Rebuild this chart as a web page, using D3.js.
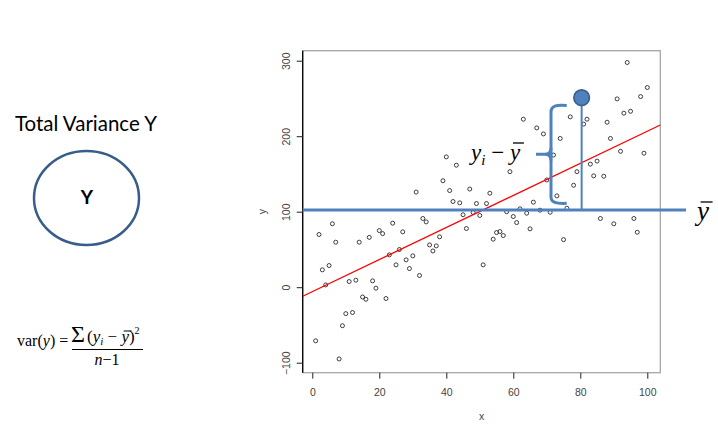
<!DOCTYPE html>
<html><head><meta charset="utf-8">
<script src="https://cdn.jsdelivr.net/npm/d3@7"></script>
<style>html,body{margin:0;padding:0;background:#fff;} svg{display:block;}</style>
</head><body>
<svg id="c" width="718" height="434"></svg>
<script>
// ---- data ----
const xValues = [1,2,3,4,5,6,7,8,9,10,11,12,13,14,15,16,17,18,19,20,
  21,22,23,24,25,26,27,28,29,30,31,32,33,34,35,36,37,38,39,40,
  41,42,43,44,45,46,47,48,49,50,51,52,53,54,55,56,57,58,59,60,
  61,62,63,64,65,66,67,68,69,70,71,72,73,74,75,76,77,78,79,80,
  81,82,83,84,85,86,87,88,89,90,91,92,93,94,95,96,97,98,99,100];
const yValues = [-71,69.8,23,3,28.7,84,59.6,-95,-51,-35,
  7.5,-33.5,9.3,59.6,-13,-16,66,8.4,-1.3,75,
  71,-15,42.8,84.8,29.6,49.9,73.3,36.2,24.7,41.5,
  126,15.5,91,86.5,56,48,54.7,66.7,141,172.6,
  128,113.5,161.6,111.7,96,77.7,130,99,110.8,95,
  29.6,110.8,124.5,63.6,72.4,73.7,68.4,100,153,93.6,
  85.6,103.8,222.5,98,77.3,112.6,211,102,203,142,
  99.3,175,121,197,63,104.6,225.6,135,153,251,
  216,222.5,163,147.5,167,91,147,218.5,197,84,
  249.4,180,230.5,297.6,233,91,72.8,252.5,177.5,264.5];
const xTicks = [0,20,40,60,80,100];
const yTicks = [-100,0,100,200,300];
const fitCoef = [-5.9, 2.125];      // intercept, slope of the red line
const yMean = [102.4];               // mean of y (blue line)
const highlightPoint = [80.4, 251];  // highlighted observation

// ---- layout ----
const box = {left:302.7, right:660.3, top:50.7, bottom:372.7};
const svg = d3.select("#c");
const x = d3.scaleLinear().domain([0,100]).range([312.3,647.3]);
const y = d3.scaleLinear().domain([-100,300]).range([362.7,60.7]);
const blue = "#4f81bd";
const serif = "'Liberation Serif','Times New Roman',serif";
const sans = "'Liberation Sans',Arial,sans-serif";

// frame
svg.append("rect").attr("x",box.left).attr("y",box.top)
  .attr("width",box.right-box.left).attr("height",box.bottom-box.top)
  .attr("fill","none").attr("stroke","#a6a6a6").attr("stroke-width",1.3);
svg.append("line").attr("x1",box.left).attr("x2",box.left)
  .attr("y1",box.top).attr("y2",box.bottom).attr("stroke","#000").attr("stroke-width",1.3);

// axes
const gy = svg.append("g").attr("transform",`translate(${box.left},0)`)
  .call(d3.axisLeft(y).tickValues(yTicks).tickSize(6).tickFormat(d3.format("d")));
gy.select(".domain").remove();
gy.selectAll(".tick line").attr("stroke","#222");
gy.selectAll(".tick text").attr("transform","rotate(-90)")
  .attr("x",0).attr("y",-16).attr("dy","0.35em").attr("text-anchor","middle")
  .attr("font-family",sans).attr("font-size",10.5).attr("fill","#444");

const gx = svg.append("g").attr("transform",`translate(0,${box.bottom})`)
  .call(d3.axisBottom(x).tickValues(xTicks).tickSize(6).tickFormat(d3.format("d")));
gx.select(".domain").remove();
gx.selectAll(".tick line").attr("stroke","#222");
gx.selectAll(".tick text").attr("y",20).attr("dy","0.35em")
  .attr("font-family",sans).attr("font-size",10.5).attr("fill","#444");

svg.append("text").attr("transform",`translate(262.7,${(box.top+box.bottom)/2}) rotate(-90)`)
  .attr("text-anchor","middle").attr("dy","0.35em")
  .attr("font-family",sans).attr("font-size",10.5).attr("fill","#444").text("y");
svg.append("text").attr("x",(box.left+box.right)/2).attr("y",416).attr("dy","0.35em")
  .attr("text-anchor","middle").attr("font-family",sans).attr("font-size",10.5).attr("fill","#444").text("x");

// points
const pts = xValues.map((v,i)=>[v,yValues[i]]);
svg.append("g").selectAll("circle").data(pts).join("circle")
  .attr("cx",d=>x(d[0])).attr("cy",d=>y(d[1])).attr("r",2)
  .attr("fill","none").attr("stroke","#111").attr("stroke-width",0.8);

// regression line
const xl = [x.invert(box.left), x.invert(box.right)];
svg.append("line")
  .attr("x1",x(xl[0])).attr("y1",y(fitCoef[0]+fitCoef[1]*xl[0]))
  .attr("x2",x(xl[1])).attr("y2",y(fitCoef[0]+fitCoef[1]*xl[1]))
  .attr("stroke","#ff0000").attr("stroke-width",1.3);

// mean line
svg.append("line").attr("x1",box.left).attr("x2",686)
  .attr("y1",y(yMean[0])).attr("y2",y(yMean[0]))
  .attr("stroke",blue).attr("stroke-width",3);

// deviation line + highlighted point
const hx = x(highlightPoint[0]), hy = y(highlightPoint[1]);
svg.append("line").attr("x1",hx).attr("x2",hx).attr("y1",hy).attr("y2",y(yMean[0]))
  .attr("stroke",blue).attr("stroke-width",2);
svg.append("circle").attr("cx",hx).attr("cy",hy).attr("r",7.8)
  .attr("fill",blue).attr("stroke","#385d8a").attr("stroke-width",1.6);

// brace
svg.append("path")
  .attr("d","M566.7,105.5 C556,104.5 551,106 551,112 L551,197 C551,202.5 556,203.8 566.7,203.3")
  .attr("fill","none").attr("stroke",blue).attr("stroke-width",3);
svg.append("path")
  .attr("d","M536,154.3 L545,154.3 Q551,154.3 551,148 M545,154.3 Q551,154.3 551,160.6")
  .attr("fill","none").attr("stroke",blue).attr("stroke-width",3);

// helper: bar over a character of a text element
function barOver(textSel, idx, yBar, w, sw){
  const r = textSel.node().getExtentOfChar(idx);
  svg.append("line").attr("x1",r.x+r.width*0.3).attr("x2",r.x+r.width*0.3+w)
    .attr("y1",yBar).attr("y2",yBar).attr("stroke","#000").attr("stroke-width",sw);
}

// label y_i - ybar
const lab = svg.append("text").attr("x",471).attr("y",160)
  .attr("font-family",serif).attr("font-size",23).attr("fill","#000");
lab.append("tspan").attr("font-style","italic").text("y");
lab.append("tspan").attr("font-style","italic").attr("font-size",15).attr("dy",5).text("i");
lab.append("tspan").attr("dy",-5).text(" \u2212 ");
lab.append("tspan").attr("font-style","italic").text("y");
barOver(lab, 5, 143, 11, 1.3);

// right ybar
const yb = svg.append("text").attr("x",697).attr("y",220)
  .attr("font-family",serif).attr("font-size",27).attr("font-style","italic").text("y");
barOver(yb, 0, 202, 12, 1.3);

// left panel
svg.append("text").attr("x",15).attr("y",131)
  .attr("font-family","Lato,'Open Sans',sans-serif").attr("font-size",21)
  .attr("textLength",142).attr("lengthAdjust","spacingAndGlyphs")
  .attr("fill","#000").text("Total Variance Y");
svg.append("ellipse").attr("cx",86.5).attr("cy",198).attr("rx",52.5).attr("ry",47)
  .attr("fill","none").attr("stroke","#385d8a").attr("stroke-width",2.5);
svg.append("text").attr("x",87).attr("y",204).attr("text-anchor","middle")
  .attr("font-family","Lato,'Open Sans',sans-serif").attr("font-weight","bold").attr("font-size",19)
  .text("Y");

// formula
const f1 = svg.append("text").attr("x",17).attr("y",346)
  .attr("font-family",serif).attr("font-size",16);
f1.append("tspan").text("var(");
f1.append("tspan").attr("font-style","italic").text("y");
f1.append("tspan").text(") =");
svg.append("line").attr("x1",72).attr("x2",143).attr("y1",349.5).attr("y2",349.5)
  .attr("stroke","#000").attr("stroke-width",1);
svg.append("text").attr("x",71).attr("y",342).attr("font-family",serif).attr("font-size",24).text("\u03A3");
const num = svg.append("text").attr("x",87).attr("y",342)
  .attr("font-family",serif).attr("font-size",17);
num.append("tspan").text("(");
num.append("tspan").attr("font-style","italic").text("y");
num.append("tspan").attr("font-style","italic").attr("font-size",11).attr("dy",3).text("i");
num.append("tspan").attr("dy",-3).text(" \u2212 ");
num.append("tspan").attr("font-style","italic").text("y");
num.append("tspan").text(")");
num.append("tspan").attr("font-size",10).attr("dy",-8).text("2");
barOver(num, 6, 331, 8, 1);
const den = svg.append("text").attr("x",107).attr("y",365).attr("text-anchor","middle")
  .attr("font-family",serif).attr("font-size",16);
den.append("tspan").attr("font-style","italic").text("n");
den.append("tspan").text("\u22121");
</script>
</body></html>
